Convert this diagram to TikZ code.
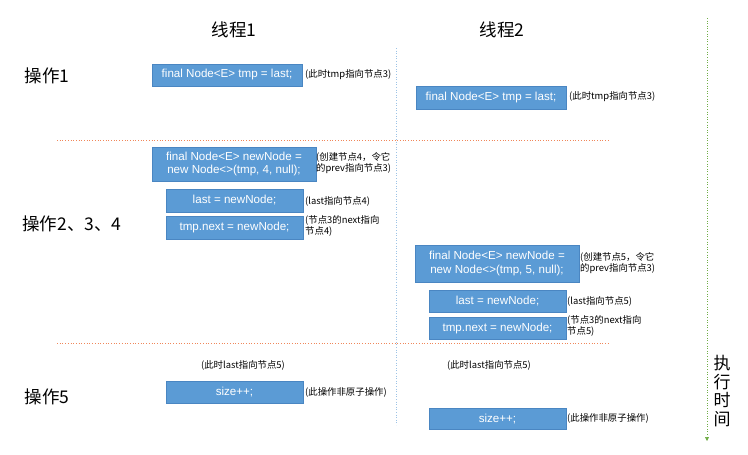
\documentclass[tikz,border=0pt]{standalone}
\usepackage{fontspec}
\setmainfont{Liberation Sans}
\newfontfamily\cjk{Noto Sans CJK SC}
\usetikzlibrary{arrows.meta}
\definecolor{boxblue}{HTML}{5B9BD5}
\definecolor{boxedge}{HTML}{4A86C2}
\definecolor{sepor}{HTML}{F0875A}
\definecolor{vblue}{HTML}{9DC3E6}
\definecolor{tgreen}{HTML}{70AD47}
\tikzset{
  codebox/.style={draw=boxedge, line width=0.5pt, fill=boxblue, text=white, font=\fontsize{11.6}{13.5}\selectfont, align=center, inner sep=0pt},
  note/.style={anchor=west, inner sep=0pt, font=\cjk\fontsize{9.4}{11.5}\selectfont, align=left, text=black},
  header/.style={inner sep=0pt, font=\cjk\fontsize{17.5}{19}\selectfont},
  sep/.style={draw=sepor, dotted, line width=0.7pt},
}
\begin{document}
\begin{tikzpicture}[x=1pt,y=-1pt]
\useasboundingbox (0,0) rectangle (748,455);
% headers
\node[header] (h1) at (234,30) {线程1};
\node[header] (h2) at (502,30) {线程2};
\node[header] (op1) at (47,76) {操作1};
\node[header] (op234) at (72,224) {操作2、3、4};
\node[header] (op5) at (47,397) {操作5};
% guide lines
\coordinate (vt) at (396,48);
\coordinate (vb) at (396,425);
\draw[draw=vblue, dotted, line width=0.6pt] (vt) -- (vb);
\coordinate (s1a) at (57,140);
\coordinate (s1b) at (609,140);
\coordinate (s2a) at (57,343);
\coordinate (s2b) at (609,343);
\draw[sep] (s1a) -- (s1b);
\draw[sep] (s2a) -- (s2b);
% time arrow
\coordinate (ta) at (707,18);
\coordinate (tb) at (707,441);
\draw[draw=tgreen, dotted, line width=0.6pt, -{Triangle[length=4pt,width=4pt]}] (ta) -- (tb);
\node[header, align=center, font=\cjk\fontsize{17}{18.5}\selectfont] (tlabel) at (722,391) {执\\行\\时\\间};
% thread 1
\node[codebox, minimum width=150, minimum height=22] (a1) at (227,75) {final Node<E> tmp = last;};
\node[note] (n1) at (305,75) {(此时tmp指向节点3)};
\node[codebox, minimum width=164, minimum height=34] (a2) at (234,164) {final Node<E> newNode =\\new Node<>(tmp, 4, null);};
\node[note] (n2) at (316,163) {(创建节点4，令它\\的prev指向节点3)};
\node[codebox, minimum width=137, minimum height=23] (a3) at (234.5,200.5) {last = newNode;};
\node[note] (n3) at (305,201) {(last指向节点4)};
\node[codebox, minimum width=137, minimum height=23] (a4) at (234.5,227.5) {tmp.next = newNode;};
\node[note] (n4) at (305,226) {(节点3的next指向\\节点4)};
\node[note, anchor=center] (n5) at (243,365) {(此时last指向节点5)};
\node[codebox, minimum width=137, minimum height=22] (a5) at (234.5,392.5) {size++;};
\node[note] (n6) at (305,392) {(此操作非原子操作)};
% thread 2
\node[codebox, minimum width=150, minimum height=23] (b1) at (491,97.5) {final Node<E> tmp = last;};
\node[note] (m1) at (569,97) {(此时tmp指向节点3)};
\node[codebox, minimum width=164, minimum height=37] (b2) at (497,263.5) {final Node<E> newNode =\\new Node<>(tmp, 5, null);};
\node[note] (m2) at (580,263) {(创建节点5，令它\\的prev指向节点3)};
\node[codebox, minimum width=137, minimum height=22] (b3) at (497.5,301.5) {last = newNode;};
\node[note] (m3) at (567,301) {(last指向节点5)};
\node[codebox, minimum width=137, minimum height=22] (b4) at (497.5,328) {tmp.next = newNode;};
\node[note] (m4) at (567,326) {(节点3的next指向\\节点5)};
\node[note, anchor=center] (m5) at (489,365) {(此时last指向节点5)};
\node[codebox, minimum width=137, minimum height=21] (b5) at (497.5,419) {size++;};
\node[note] (m6) at (567,418) {(此操作非原子操作)};
\end{tikzpicture}
\end{document}
